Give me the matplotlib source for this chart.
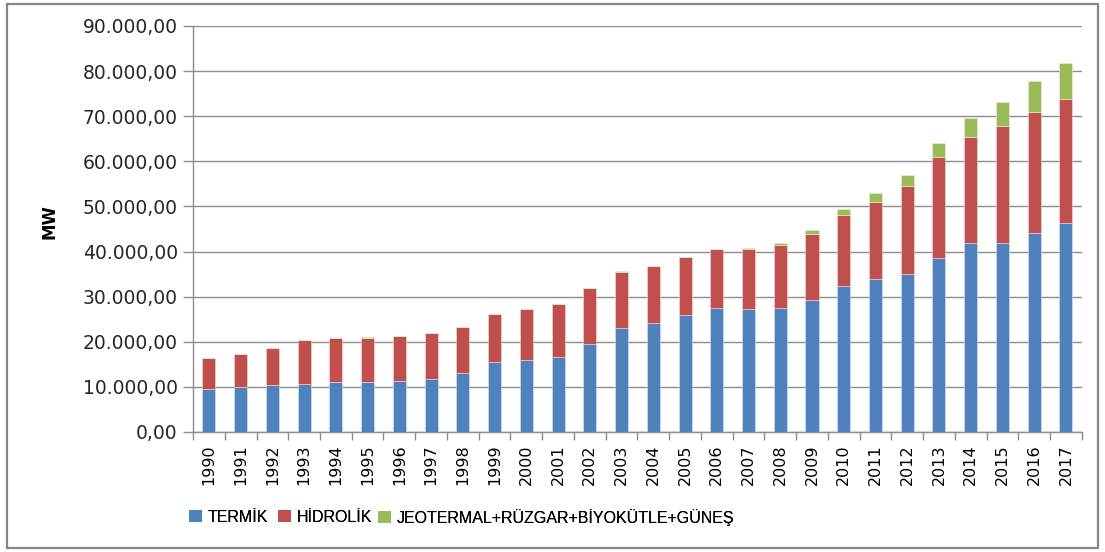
import matplotlib
matplotlib.use('Agg')
import matplotlib.pyplot as plt
import numpy as np
from matplotlib.patches import Rectangle, Patch
import matplotlib.ticker as ticker

years = [str(y) for y in range(1990, 2018)]

termik = [9536, 10078, 10320, 10638, 10978, 11074, 11297, 11772, 13021, 15556,
          16053, 16623, 19569, 22974, 24145, 25902, 27420, 27272, 27595, 29339,
          32279, 33931, 35027, 38648, 41802, 41903, 44200, 46260]
hidrolik = [6764, 7114, 8379, 9682, 9865, 9863, 9935, 10103, 10307, 10537,
            11175, 11673, 12241, 12579, 12645, 12906, 13063, 13395, 13829, 14553,
            15831, 17137, 19609, 22289, 23643, 25868, 26680, 27490]
yenilenebilir = [18, 18, 18, 18, 18, 18, 18, 18, 26, 26,
                 36, 36, 36, 34, 34, 35, 82, 169, 394, 869,
                 1414, 1979, 2422, 3071, 4075, 5376, 7000, 7980]

labels = ['TERMİK', 'HİDROLİK', 'JEOTERMAL+RÜZGAR+BİYOKÜTLE+GÜNEŞ']
colors = ['#4F81BD', '#C0504D', '#9BBB59']

fig = plt.figure(figsize=(11.05, 5.52), dpi=100)
ax = fig.add_axes([0.1747, 0.2174, 0.8043, 0.7355])

x = np.arange(len(years))
w = 0.41
t = np.array(termik)
h = np.array(hidrolik)
g = np.array(yenilenebilir)
ax.bar(x, t, w, color=colors[0], edgecolor='#dce6f2', linewidth=0.4, zorder=3)
ax.bar(x, h, w, bottom=t, color=colors[1], edgecolor='#f2dcdb', linewidth=0.4, zorder=3)
ax.bar(x, g, w, bottom=t + h, color=colors[2], edgecolor='#ebf1de', linewidth=0.4, zorder=3)

ax.set_xlim(-0.5, len(years) - 0.5)
ax.set_ylim(0, 90000)
ax.set_yticks(np.arange(0, 90001, 10000))
ax.yaxis.set_major_formatter(ticker.FuncFormatter(
    lambda v, p: '{:,.2f}'.format(v).replace(',', 'X').replace('.', ',').replace('X', '.')))
ax.grid(axis='y', color='#8c8c8c', linewidth=1.0, zorder=0)

ax.set_xticks(x)
ax.set_xticklabels(years, rotation=90, fontsize=11.5, color='#000000')
ax.set_xticks(np.arange(-0.5, len(years), 1), minor=True)
ax.tick_params(axis='x', which='major', length=0, pad=9)
ax.tick_params(axis='x', which='minor', length=6, color='#8c8c8c', width=1)
ax.tick_params(axis='y', length=7, color='#8c8c8c', width=1, labelsize=13.5,
               labelcolor='#262626', pad=4)

for s in ['top', 'right']:
    ax.spines[s].set_visible(False)
for s in ['left', 'bottom']:
    ax.spines[s].set_color('#8c8c8c')
    ax.spines[s].set_linewidth(1.0)

fig.text(0.045, 0.598, 'MW', rotation=90, fontsize=12, fontweight='bold',
         ha='center', va='center')

# legend entries placed one by one, like the original
leg_x = [0.171, 0.252, 0.342]
for lx, lab, c in zip(leg_x, labels, colors):
    leg = fig.legend([Patch(facecolor=c, edgecolor='none')], [lab], loc='center left',
                     bbox_to_anchor=(lx, 0.063), frameon=False, borderpad=0,
                     borderaxespad=0, handlelength=0.8, handleheight=0.8,
                     handletextpad=0.35,
                     prop={'family': 'Liberation Sans', 'size': 11.5})
    fig.add_artist(leg)

fig.patches.append(Rectangle((0.006, 0.007), 0.988, 0.986, transform=fig.transFigure,
                             fill=False, edgecolor='#878787', linewidth=1.6))

fig.savefig('out.png', dpi=100)
